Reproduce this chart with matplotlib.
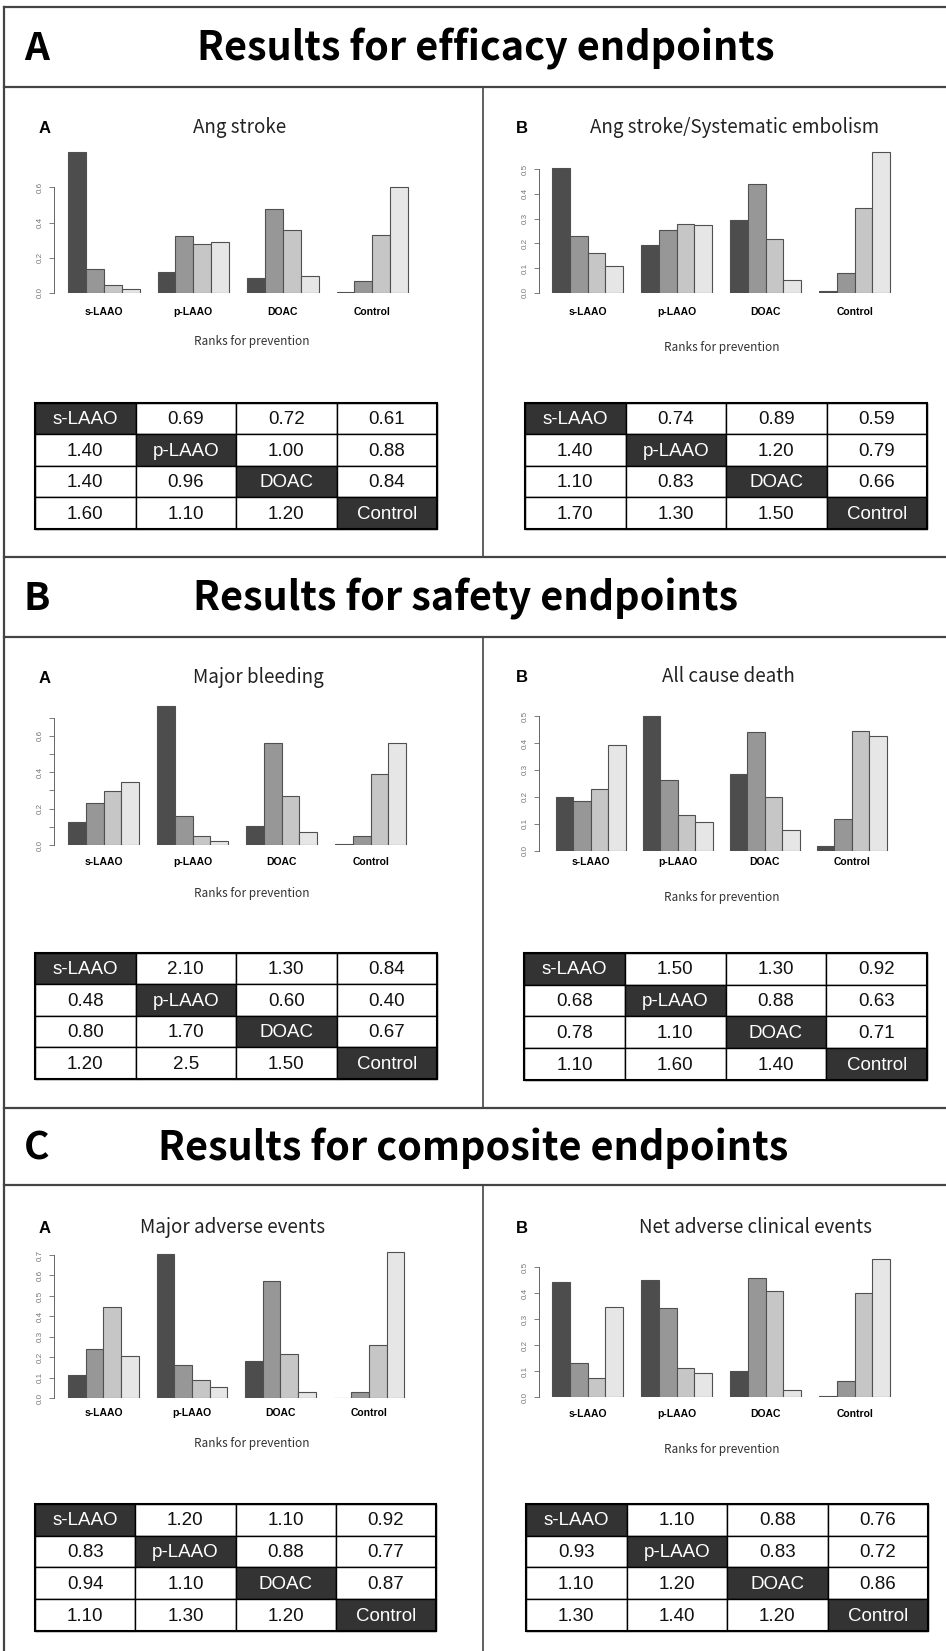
import matplotlib
matplotlib.use('Agg')
import matplotlib.pyplot as plt
from matplotlib.patches import Rectangle

W, H = 946, 1651

treatments = ['s-LAAO', 'p-LAAO', 'DOAC', 'Control']
rank_colors = ['#4d4d4d', '#979797', '#c6c6c6', '#e6e6e6']

# probability of rank 1..4 for each treatment
ang_stroke = [[0.80, 0.136, 0.044, 0.025],
              [0.117, 0.322, 0.277, 0.290],
              [0.085, 0.477, 0.356, 0.095],
              [0.008, 0.070, 0.330, 0.600]]
ang_stroke_se = [[0.506, 0.228, 0.160, 0.107],
                 [0.194, 0.254, 0.279, 0.275],
                 [0.293, 0.440, 0.216, 0.053],
                 [0.008, 0.081, 0.344, 0.568]]
major_bleeding = [[0.128, 0.229, 0.299, 0.348],
                  [0.766, 0.161, 0.051, 0.024],
                  [0.104, 0.559, 0.269, 0.070],
                  [0.005, 0.051, 0.388, 0.559]]
all_cause_death = [[0.200, 0.184, 0.228, 0.391],
                   [0.502, 0.264, 0.131, 0.106],
                   [0.283, 0.440, 0.200, 0.078],
                   [0.017, 0.116, 0.446, 0.426]]
major_adverse = [[0.114, 0.241, 0.446, 0.208],
                 [0.704, 0.161, 0.088, 0.054],
                 [0.182, 0.575, 0.217, 0.033],
                 [0.003, 0.031, 0.259, 0.713]]
net_adverse = [[0.442, 0.132, 0.076, 0.349],
               [0.450, 0.345, 0.113, 0.092],
               [0.103, 0.459, 0.410, 0.028],
               [0.005, 0.063, 0.400, 0.532]]

# league tables (diagonal = treatment name)
tab_ang_stroke = [['s-LAAO', '0.69', '0.72', '0.61'],
                  ['1.40', 'p-LAAO', '1.00', '0.88'],
                  ['1.40', '0.96', 'DOAC', '0.84'],
                  ['1.60', '1.10', '1.20', 'Control']]
tab_ang_stroke_se = [['s-LAAO', '0.74', '0.89', '0.59'],
                     ['1.40', 'p-LAAO', '1.20', '0.79'],
                     ['1.10', '0.83', 'DOAC', '0.66'],
                     ['1.70', '1.30', '1.50', 'Control']]
tab_major_bleeding = [['s-LAAO', '2.10', '1.30', '0.84'],
                      ['0.48', 'p-LAAO', '0.60', '0.40'],
                      ['0.80', '1.70', 'DOAC', '0.67'],
                      ['1.20', '2.5', '1.50', 'Control']]
tab_all_cause_death = [['s-LAAO', '1.50', '1.30', '0.92'],
                       ['0.68', 'p-LAAO', '0.88', '0.63'],
                       ['0.78', '1.10', 'DOAC', '0.71'],
                       ['1.10', '1.60', '1.40', 'Control']]
tab_major_adverse = [['s-LAAO', '1.20', '1.10', '0.92'],
                     ['0.83', 'p-LAAO', '0.88', '0.77'],
                     ['0.94', '1.10', 'DOAC', '0.87'],
                     ['1.10', '1.30', '1.20', 'Control']]
tab_net_adverse = [['s-LAAO', '1.10', '0.88', '0.76'],
                   ['0.93', 'p-LAAO', '0.83', '0.72'],
                   ['1.10', '1.20', 'DOAC', '0.86'],
                   ['1.30', '1.40', '1.20', 'Control']]

headers = [('A', 'Results for efficacy endpoints'),
           ('B', 'Results for safety endpoints'),
           ('C', 'Results for composite endpoints')]

TITLE_FONT = ['Noto Sans CJK SC', 'DejaVu Sans']
R_FONT = ['Liberation Sans', 'DejaVu Sans']

fig = plt.figure(figsize=(W / 100, H / 100), dpi=100)
ov = fig.add_axes([0, 0, 1, 1])
ov.set_xlim(0, W)
ov.set_ylim(H, 0)
ov.axis('off')

# frame lines
line_kw = dict(color='#444444', lw=1.6)
ov.plot([4, 4], [7, H], **line_kw)
for yy in [7, 87, 557, 637, 1108, 1185]:
    ov.plot([4, W], [yy, yy], **line_kw)
for ya, yb in [(87, 557), (637, 1108), (1185, H)]:
    ov.plot([483, 483], [ya, yb], color='#444444', lw=1.2)

# section headers
for (letter, text), (base, tx) in zip(headers, [(60, 197), (610, 193), (1160, 158)]):
    ov.text(37, base, letter, fontsize=28, fontweight='bold', ha='center',
            va='baseline', family=TITLE_FONT)
    ov.text(tx, base, text, fontsize=28.5, fontweight='bold', ha='left',
            va='baseline', family=TITLE_FONT)


def bar_panel(probs, x0, w, axis_x, y0, scale, ymax, ticks, labels, cat_dy):
    right = x0 + 21 * w
    top = y0 - ymax * scale
    ax = fig.add_axes([axis_x / W, 1 - y0 / H, (right - axis_x) / W, (y0 - top) / H])
    ax.set_facecolor('none')
    for g in range(4):
        for r in range(4):
            ax.bar(g * 5 + r, probs[g][r], width=1, align='edge',
                   color=rank_colors[r], edgecolor='#505050', linewidth=0.8)
    ax.set_xlim((axis_x - x0) / w, 21)
    ax.set_ylim(0, ymax)
    for s in ['top', 'right', 'bottom']:
        ax.spines[s].set_visible(False)
    ax.spines['left'].set_bounds(0, ticks[-1])
    ax.spines['left'].set_color('#666666')
    ax.spines['left'].set_linewidth(0.7)
    ax.set_yticks(ticks)
    ax.set_yticklabels(labels, rotation=90, va='center', fontsize=5.8,
                       color='#7a7470', family=R_FONT)
    ax.tick_params(axis='y', length=3.6, width=0.6, color='#666666', pad=3.5)
    ax.set_xticks([g * 5 + 2 for g in range(4)])
    ax.set_xticklabels(treatments, fontsize=7.5, fontweight='bold', family=R_FONT)
    ax.tick_params(axis='x', length=0, pad=(cat_dy - 6) * 0.72)
    return ax


def league_table(cells, x0, y0, x1, y1):
    cw = (x1 - x0) / 4
    rh = (y1 - y0) / 4
    for r in range(4):
        for c in range(4):
            dark = r == c
            ov.add_patch(Rectangle((x0 + c * cw, y0 + r * rh), cw, rh,
                                   facecolor='#333333' if dark else 'white',
                                   edgecolor='black', lw=1.0))
            ov.text(x0 + (c + 0.5) * cw, y0 + (r + 0.5) * rh + 1, cells[r][c],
                    ha='center', va='center', fontsize=13.5,
                    color='white' if dark else '#111111', family=R_FONT)
    ov.add_patch(Rectangle((x0, y0), x1 - x0, y1 - y0, fill=False,
                           edgecolor='black', lw=1.5))


t01 = [0, 0.1, 0.2, 0.3, 0.4, 0.5]
t07 = [0, 0.1, 0.2, 0.3, 0.4, 0.5, 0.6, 0.7]
lab05 = ['0.0', '0.1', '0.2', '0.3', '0.4', '0.5']
lab07 = ['0.0', '0.1', '0.2', '0.3', '0.4', '0.5', '0.6', '0.7']

bar_panel(ang_stroke, 68, 17.9, 54, 293, 176, 0.84,
          [0, 0.2, 0.4, 0.6], ['0.0', '0.2', '0.4', '0.6'], 20)
bar_panel(ang_stroke_se, 552, 17.8, 539, 292.7, 247, 0.6, t01, lab05, 20)
bar_panel(major_bleeding, 68, 17.8, 54, 845, 182, 0.8, t07,
          ['0.0', '', '0.2', '', '0.4', '', '0.6', ''], 18)
bar_panel(all_cause_death, 556, 17.4, 539, 850.7, 269.3, 0.55, t01, lab05, 12.5)
bar_panel(major_adverse, 68, 17.7, 54, 1398.3, 204.7, 0.75, t07, lab07, 16)
bar_panel(net_adverse, 552, 17.8, 539, 1397.3, 260, 0.56, t01, lab05, 18)

# panel letters, titles and x labels
panel_text = [
    (45, 133, 'A', 240, 'Ang stroke', 252, 342),
    (522, 133, 'B', 735, 'Ang stroke/Systematic embolism', 722, 348),
    (45, 683, 'A', 258, 'Major bleeding', 252, 893),
    (522, 682, 'B', 728, 'All cause death', 722, 897),
    (45, 1233, 'A', 233, 'Major adverse events', 252, 1443),
    (522, 1233, 'B', 755, 'Net adverse clinical events', 722, 1449),
]
for lx, base, letter, tx, title, xlx, xly in panel_text:
    ov.text(lx, base, letter, fontsize=12, fontweight='bold', ha='center',
            va='baseline', family=R_FONT)
    ov.text(tx, base, title, fontsize=13.5, ha='center', va='baseline',
            family=TITLE_FONT, color='#222222')
    ov.text(xlx, xly, 'Ranks for prevention', fontsize=8.5, ha='center',
            va='center', family=TITLE_FONT, color='#333333')

league_table(tab_ang_stroke, 35, 403, 437, 529)
league_table(tab_ang_stroke_se, 525, 403, 927, 529)
league_table(tab_major_bleeding, 35, 953, 437, 1079)
league_table(tab_all_cause_death, 524, 953, 927, 1080)
league_table(tab_major_adverse, 35, 1504, 436, 1631)
league_table(tab_net_adverse, 526, 1504, 928, 1631)

fig.savefig('out.png', dpi=100)
